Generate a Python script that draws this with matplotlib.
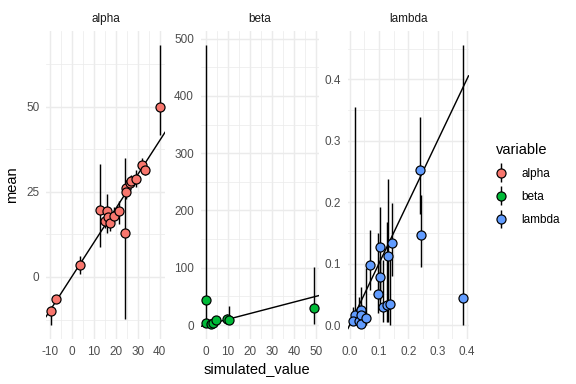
import matplotlib
matplotlib.use("Agg")
import matplotlib.pyplot as plt
from matplotlib.legend_handler import HandlerErrorbar
from matplotlib.container import ErrorbarContainer
import numpy as np

plt.rcParams['font.family'] = ['Liberation Sans', 'DejaVu Sans']
plt.rcParams['axes.unicode_minus'] = False

# ---- data ----
variables = ["alpha", "beta", "lambda"]
colors = ["#F8766D", "#00BA38", "#619CFF"]

alpha_sim = [-9.2, -7.3, 3.6, 12.7, 15.9, 15.0, 16.7, 17.3, 19.1, 21.4, 24.4, 24.8, 24.8, 26.4, 27.1, 29.4, 32.1, 33.3, 40.0]
alpha_mean = [-10.0, -6.5, 3.6, 19.7, 19.3, 16.5, 17.7, 15.8, 18.0, 19.3, 12.9, 26.0, 24.8, 27.7, 28.2, 28.9, 32.8, 31.3, 50.0]
alpha_lower = [-14.1, -7.5, 1.0, 8.8, 12.9, 14.5, 15.0, 13.5, 16.0, 15.6, -12.2, 24.0, 23.0, 25.5, 26.5, 26.5, 31.5, 30.0, 41.8]
alpha_upper = [-8.5, -5.5, 6.3, 33.1, 24.5, 18.0, 19.5, 17.5, 20.5, 22.4, 35.0, 27.5, 26.5, 29.5, 30.0, 31.5, 35.0, 32.5, 68.1]

beta_sim = [0.0, 0.0, 2.1, 3.3, 4.5, 9.7, 10.6, 49.0]
beta_mean = [43, 3, 1, 3, 8, 11, 8, 29]
beta_lower = [1, 0, 0, 0, 2, 5, 3, 1]
beta_upper = [489, 8, 3, 7, 14, 20, 33, 101]

lambda_sim = [0.017, 0.013, 0.032, 0.040, 0.040, 0.038, 0.055, 0.070, 0.097, 0.102, 0.105, 0.114, 0.127, 0.130, 0.137, 0.143, 0.241, 0.243, 0.387]
lambda_mean = [0.016, 0.006, 0.0065, 0.024, 0.016, 0.002, 0.012, 0.097, 0.050, 0.078, 0.127, 0.030, 0.032, 0.112, 0.034, 0.134, 0.252, 0.146, 0.044]
lambda_lower = [0.0, 0.0, 0.0, 0.005, 0.003, 0.0, 0.0, 0.057, 0.02, 0.04, 0.03, 0.005, 0.005, 0.005, 0.0, 0.079, 0.181, 0.095, 0.0]
lambda_upper = [0.355, 0.03, 0.045, 0.062, 0.035, 0.02, 0.093, 0.154, 0.15, 0.11, 0.192, 0.106, 0.168, 0.238, 0.11, 0.198, 0.339, 0.211, 0.456]

xticks = {
    "alpha": [-10, 0, 10, 20, 30, 40],
    "beta": [0, 10, 20, 30, 40, 50],
    "lambda": [0.0, 0.1, 0.2, 0.3, 0.4],
}
yticks = {
    "alpha": [0, 25, 50],
    "beta": [0, 100, 200, 300, 400, 500],
    "lambda": [0.0, 0.1, 0.2, 0.3, 0.4],
}
xticklabels = {
    "alpha": ["-10", "0", "10", "20", "30", "40"],
    "beta": ["0", "10", "20", "30", "40", "50"],
    "lambda": ["0.0", "0.1", "0.2", "0.3", "0.4"],
}
yticklabels = {
    "alpha": ["0", "25", "50"],
    "beta": ["0", "100", "200", "300", "400", "500"],
    "lambda": ["0.0", "0.1", "0.2", "0.3", "0.4"],
}

data = {
    "alpha": (alpha_sim, alpha_mean, alpha_lower, alpha_upper),
    "beta": (beta_sim, beta_mean, beta_lower, beta_upper),
    "lambda": (lambda_sim, lambda_mean, lambda_lower, lambda_upper),
}

W, H = 576, 384
fig = plt.figure(figsize=(6, 4), dpi=96)

panel_left = [46, 200.6, 348]
panel_w = [119, 118.4, 120.5]
top_px, bot_px = 31, 339

grid_major = "#EBEBEB"
text_col = "#4D4D4D"

handles = []
for i, v in enumerate(variables):
    ax = fig.add_axes([panel_left[i] / W, 1 - bot_px / H, panel_w[i] / W, (bot_px - top_px) / H])
    sim, mean, lo, hi = [np.asarray(a, dtype=float) for a in data[v]]
    # ggplot-like expansion
    xmin, xmax = sim.min(), sim.max()
    ymin = min(lo.min(), mean.min()); ymax = max(hi.max(), mean.max())
    dx = (xmax - xmin) * 0.05; dy = (ymax - ymin) * 0.05

    xt = xticks[v]; yt = yticks[v]
    ax.set_xticks(xt); ax.set_xticklabels(xticklabels[v])
    ax.set_yticks(yt); ax.set_yticklabels(yticklabels[v])
    xs = xt[1] - xt[0]; ys = yt[1] - yt[0]
    xminors = np.arange(xt[0] - xs / 2, xt[-1] + xs, xs)
    yminors = np.arange(yt[0] - ys / 2, yt[-1] + ys, ys)
    ax.set_xticks(xminors, minor=True)
    ax.set_yticks(yminors, minor=True)
    ax.set_xlim(xmin - dx, xmax + dx)
    ax.set_ylim(ymin - dy, ymax + dy)

    ax.grid(True, which="major", color=grid_major, linewidth=1.07)
    ax.grid(True, which="minor", color=grid_major, linewidth=0.53)
    ax.set_axisbelow(True)
    for s in ax.spines.values():
        s.set_visible(False)
    ax.tick_params(which="both", length=0, pad=5, labelsize=8.8, labelcolor=text_col)

    # y = x reference line
    ax.axline((0, 0), slope=1, color="black", linewidth=1.07, zorder=2)

    eb = ax.errorbar(sim, mean, yerr=[mean - lo, hi - mean], fmt="o", linestyle="none",
                     ecolor="black", elinewidth=1.07, capsize=0,
                     markerfacecolor=colors[i], markeredgecolor="black",
                     markeredgewidth=0.9, markersize=6.8, zorder=3, label=v)
    handles.append(eb)

    ax.text(0.5, 1 + 12 / (bot_px - top_px), v, transform=ax.transAxes, ha="center",
            va="center", fontsize=8.8, color="#1A1A1A")

fig.text(12 / W, 1 - 185 / H, "mean", rotation=90, ha="center", va="center", fontsize=11, color="black")
fig.text(257 / W, 1 - 369 / H, "simulated_value", ha="center", va="center", fontsize=11, color="black")

leg = fig.legend(handles=handles, labels=variables, loc="upper left",
                 bbox_to_anchor=(485 / W, 1 - 132 / H), frameon=False,
                 title="variable", fontsize=8.8, title_fontsize=11,
                 handlelength=1.0, handletextpad=1.2, labelspacing=0.95,
                 alignment="left",
                 handler_map={ErrorbarContainer: HandlerErrorbar(xerr_size=0.5, yerr_size=0.8)})

fig.savefig("out.png", dpi=96)
